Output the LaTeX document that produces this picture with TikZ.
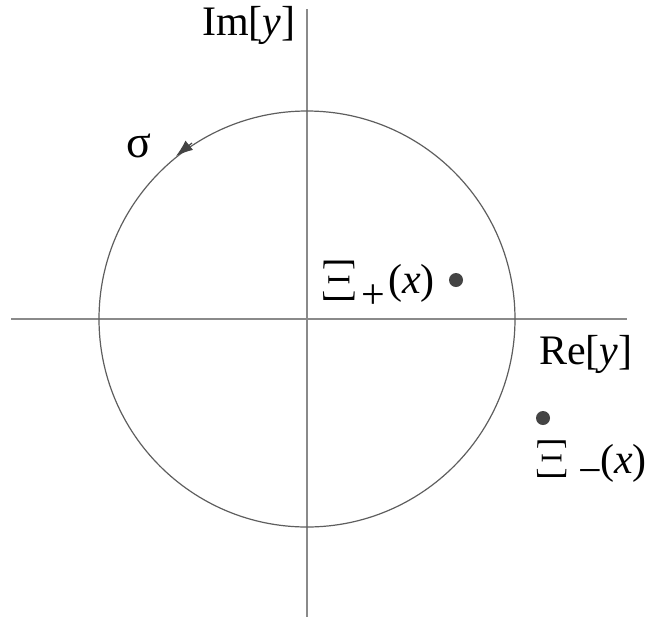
\documentclass[tikz,border=0pt]{standalone}
\usepackage{fontspec}
\setmainfont{Liberation Serif}
\newfontfamily\lmfont{Latin Modern Roman}
\usetikzlibrary{arrows.meta}
\definecolor{axisgray}{HTML}{8A8A8A}
\definecolor{circgray}{HTML}{5E5E5E}
\definecolor{dotgray}{HTML}{444444}
\tikzset{
  axisline/.style={draw=axisgray, line width=1.8pt},
  contour/.style={draw=circgray, line width=1.2pt},
  pole/.style={circle, fill=dotgray, inner sep=0pt, minimum size=14pt},
  lbl/.style={inner sep=0pt, anchor=base west, font=\fontsize{42}{48}\selectfont},
  biglbl/.style={inner sep=0pt, anchor=base west, font=\lmfont\fontsize{58}{64}\selectfont},
}
\begin{document}
\begin{tikzpicture}[x=1pt, y=-1pt]
\useasboundingbox (0,0) rectangle (656,625);
% axes
\coordinate (hl) at (11,319);
\coordinate (hr) at (627,319);
\coordinate (vt) at (307,9);
\coordinate (vb) at (307,617);
\draw[axisline] (hl) -- (hr);
\draw[axisline] (vt) -- (vb);
% contour
\coordinate (O) at (307,319);
\draw[contour] (O) circle[radius=208];
\coordinate (atail) at (192,143);
\coordinate (atip) at (176,156);
\draw[draw=circgray, line width=1.2pt, -{Latex[length=17pt,width=12pt]}, dotgray] (atail) -- (atip);
% labels
\node[lbl] (im) at (202,35) {Im[\textit{y}]};
\node[lbl] (re) at (539,364) {Re[\textit{y}]};
\node[lbl, font=\fontsize{46}{52}\selectfont] (sig) at (126,157) {σ};
% pole plus
\node[biglbl] (xip) at (321,300) {Ξ};
\node[lbl] (plus) at (361,308) {+};
\node[lbl] (xargp) at (388,293) {(\textit{x})};
\node[pole] (pp) at (456,280) {};
% pole minus
\node[pole] (pm) at (543,418) {};
\node[biglbl, font=\lmfont\fontsize{54}{60}\selectfont] (xim) at (535,477) {Ξ};
\node[lbl] (minus) at (578,484) {−};
\node[lbl] (xargm) at (600,473) {(\textit{x})};
\end{tikzpicture}
\end{document}
